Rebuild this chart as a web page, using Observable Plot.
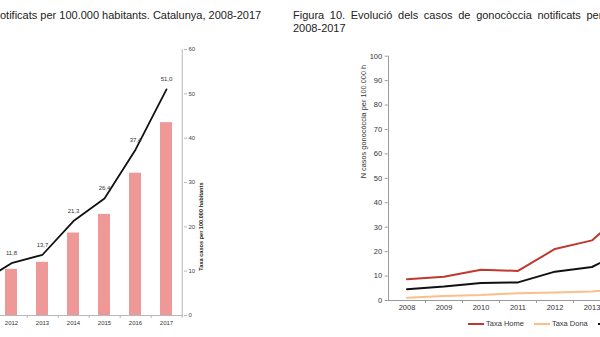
<!DOCTYPE html>
<html><head><meta charset="utf-8">
<script src="https://cdn.jsdelivr.net/npm/d3@7"></script>
<script src="https://cdn.jsdelivr.net/npm/@observablehq/plot@0.6"></script>
<style>
html,body{margin:0;padding:0;width:600px;height:337px;overflow:hidden;background:#fff;font-family:"Liberation Sans",Arial,sans-serif;}
#page{position:relative;width:600px;height:337px;overflow:hidden;}
.abs{position:absolute;}
.title{font-size:11px;color:#222;white-space:nowrap;line-height:13px;}
#legend{display:flex;align-items:center;font-size:7.5px;color:#333;white-space:nowrap;}
#legend .sw{display:inline-block;width:16px;height:2px;margin-right:2px;}
#legend .it{display:flex;align-items:center;margin-right:10px;}
svg{max-width:none !important;}
</style></head><body>
<div id="page">
 <div class="abs title" style="left:0;top:9px">otificats per 100.000 habitants. Catalunya, 2008-2017</div>
 <div class="abs title" style="left:293px;top:9px"><span style="word-spacing:2.6px">Figura 10. Evolució dels casos de gonocòccia notificats per 100.000 habitants.</span><br>2008-2017</div>
 <div id="left" class="abs" style="left:-37px;top:0"></div>
 <div id="right" class="abs" style="left:0;top:0;width:800px"></div>
 <div id="legend" class="abs" style="left:468px;top:319px"></div>
</div>
<script>
// ---- data ----
const leftYears = ["2011","2012","2013","2014","2015","2016","2017"];
const barYears = ["2012","2013","2014","2015","2016","2017"];
const barValues = [10.4, 12.0, 18.6, 22.8, 32.1, 43.5];
const totalYears = ["2008","2009","2010","2011","2012","2013","2014","2015","2016","2017"];
const totalRate = [4.6, 5.7, 7.2, 7.4, 11.8, 13.7, 21.3, 26.4, 37.4, 51.0];
const sexYears = ["2008","2009","2010","2011","2012","2013","2014"];
const homeRate = [8.7, 9.7, 12.6, 12.1, 21.1, 24.6, 38.0];
const donaRate = [1.1, 1.8, 2.2, 3.0, 3.3, 3.7, 5.0];
const leftYTicks = [0, 10, 20, 30, 40, 50, 60];
const rightYTicks = [0, 10, 20, 30, 40, 50, 60, 70, 80, 90, 100];
const seriesNames = ["Taxa Home", "Taxa Dona", "Taxa Total"];
const seriesColors = ["#c0392e", "#fbbf8a", "#111111"];
const leftAxisTitle = "Taxa casos per 100.000 habitants";
const rightAxisTitle = "N casos gonocòccia per 100.000 h";

const fmt = v => v.toFixed(1).replace(".", ",");
const bars = barYears.map((y, i) => ({year: y, value: barValues[i]}));
const totals = totalYears.map((y, i) => ({year: y, value: totalRate[i]}));
const leftLine = totals.filter(d => leftYears.includes(d.year));
const sexRows = [];
sexYears.forEach((y, i) => {
  sexRows.push({year: y, value: homeRate[i], serie: seriesNames[0]});
  sexRows.push({year: y, value: donaRate[i], serie: seriesNames[1]});
});
totals.filter(d => +d.year <= 2014).forEach(d => sexRows.push({year: d.year, value: d.value, serie: seriesNames[2]}));

const font = '"Liberation Sans", Arial, sans-serif';

// ---- left chart ----
const lW = 260, lMR = 40;
const lStep = (lW - lMR) / leftYears.length;
const left = Plot.plot({
  width: lW, height: 337,
  marginLeft: 0, marginRight: lMR, marginTop: 49, marginBottom: 22,
  style: {fontFamily: font, background: "transparent", overflow: "visible", maxWidth: "none"},
  x: {type: "band", domain: leftYears, paddingInner: 0.62, paddingOuter: 0.31, axis: null},
  y: {domain: [0, 60], axis: null},
  marks: [
    Plot.barY(bars, {x: "year", y: "value", fill: "#ef9898"}),
    Plot.ruleY([0], {stroke: "#b8b8b8"}),
    Plot.ruleX([leftYears[leftYears.length - 1]], {y1: 0, y2: 60, dx: lStep / 2, stroke: "#b8b8b8"}),
    Plot.axisX({tickSize: 3, text: null, dx: lStep / 2, stroke: "#b8b8b8", label: null}),
    Plot.axisX({tickSize: 0, tickPadding: 5, fontSize: 6, fill: "#333", label: null}),
    Plot.axisY({anchor: "right", ticks: leftYTicks, tickSize: 3, tickPadding: 2, fontSize: 6, stroke: "#b8b8b8", fill: "#444", label: null}),
    Plot.lineY(leftLine, {x: "year", y: "value", stroke: "#111", strokeWidth: 1.8}),
    Plot.text(leftLine, {x: "year", y: "value", text: d => fmt(d.value), dy: -10, fontSize: 6, fill: "#333"}),
    Plot.text([leftAxisTitle], {frameAnchor: "right", rotate: -90, dx: 18, fontSize: 5.6, fontWeight: "bold", fill: "#222"})
  ]
});
document.getElementById("left").appendChild(left);

// ---- right chart ----
const rML = 387.7, rW = rML + 37 * totalYears.length;
const rStep = (rW - rML) / totalYears.length;
const right = Plot.plot({
  width: rW, height: 337,
  marginLeft: rML, marginRight: 0, marginTop: 55.7, marginBottom: 37,
  style: {fontFamily: font, background: "transparent", overflow: "visible", maxWidth: "none"},
  x: {type: "band", domain: totalYears, axis: null, padding: 0},
  y: {domain: [0, 100], axis: null},
  color: {domain: seriesNames, range: seriesColors},
  marks: [
    Plot.ruleY([0], {stroke: "#999"}),
    Plot.ruleX([totalYears[0]], {y1: 0, y2: 100, dx: -rStep / 2, stroke: "#999"}),
    Plot.axisX({tickSize: 3, text: null, dx: rStep / 2, stroke: "#999", label: null}),
    Plot.axisX({tickSize: 0, tickPadding: 4.5, fontSize: 7.5, fill: "#333", label: null}),
    Plot.axisY({anchor: "left", ticks: rightYTicks, tickSize: 3, tickPadding: 3, fontSize: 7.5, stroke: "#999", fill: "#333", label: null}),
    Plot.lineY(sexRows, {x: "year", y: "value", z: "serie", stroke: "serie", strokeWidth: 2}),
    Plot.text([rightAxisTitle], {frameAnchor: "left", rotate: -90, dx: -25, fontSize: 7.4, fill: "#333"})
  ]
});
right.style.maxWidth = "none";
document.getElementById("right").appendChild(right);

// ---- legend ----
const lg = document.getElementById("legend");
seriesNames.forEach((n, i) => {
  const it = document.createElement("span");
  it.className = "it";
  const sw = document.createElement("span");
  sw.className = "sw";
  sw.style.background = seriesColors[i];
  it.appendChild(sw);
  it.appendChild(document.createTextNode(n));
  lg.appendChild(it);
});
</script>
</body></html>
